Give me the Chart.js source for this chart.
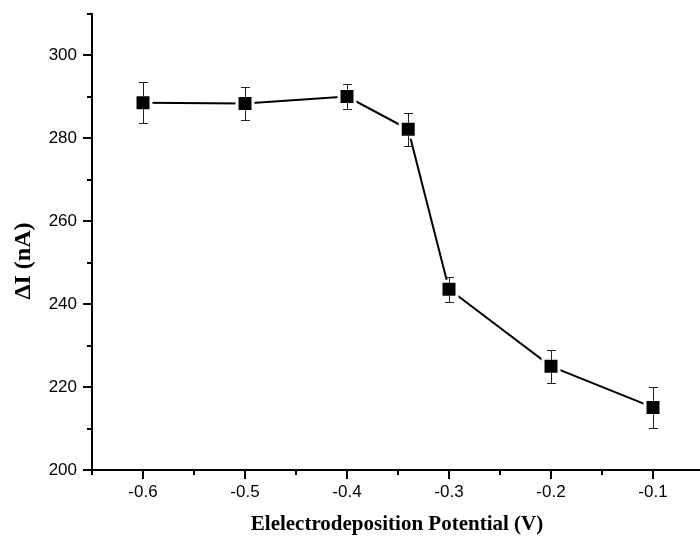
<!DOCTYPE html>
<html lang="en">
<head>
    <meta charset="UTF-8">
    <title>Electrodeposition Potential vs Delta I</title>
    <script src="https://cdn.jsdelivr.net/npm/chart.js"></script>
    <style>
        html, body {
            margin: 0;
            padding: 0;
            background: #ffffff;
            overflow: hidden;
        }
        #wrap {
            width: 700px;
            height: 537px;
            overflow: hidden;
        }
    </style>
</head>
<body>
    <div id="wrap">
        <canvas id="chart" width="704" height="537"></canvas>
    </div>

    <script>
        // Data
        const potentials = [-0.6, -0.5, -0.4, -0.34, -0.3, -0.2, -0.1];
        const deltaI = [288.6, 288.4, 290.1, 282.2, 243.6, 225.0, 215.1];
        const errors = [5.0, 4.0, 3.0, 4.0, 3.0, 4.0, 5.0];

        // Axis ticks
        const xTickValues = [-0.6, -0.5, -0.4, -0.3, -0.2, -0.1];
        const xTickLabels = ['-0.6', '-0.5', '-0.4', '-0.3', '-0.2', '-0.1'];
        const xMinorTicks = [-0.65, -0.55, -0.45, -0.35, -0.25, -0.15, -0.05];
        const yTickValues = [200, 220, 240, 260, 280, 300];
        const yTickLabels = ['200', '220', '240', '260', '280', '300'];
        const yMinorTicks = [210, 230, 250, 270, 290, 310];

        const xTitle = 'Elelectrodeposition Potential (V)';
        const yTitle = '\u0394I (nA)';

        const points = potentials.map((x, i) => ({ x: x, y: deltaI[i] }));

        // Error bars: drawn after the markers, only outside the square so they touch it
        const errorBars = {
            id: 'errorBars',
            afterDatasetsDraw(chart) {
                const ctx = chart.ctx;
                const xs = chart.scales.x;
                const ys = chart.scales.y;
                const half = 6.5;
                ctx.save();
                ctx.strokeStyle = '#222';
                ctx.lineWidth = 1;
                potentials.forEach((p, i) => {
                    const px = Math.round(xs.getPixelForValue(p)) + 0.5;
                    const mid = ys.getPixelForValue(deltaI[i]);
                    const top = Math.round(ys.getPixelForValue(deltaI[i] + errors[i])) + 0.5;
                    const bot = Math.round(ys.getPixelForValue(deltaI[i] - errors[i])) + 0.5;
                    ctx.beginPath();
                    ctx.moveTo(px, top);
                    ctx.lineTo(px, mid - half);
                    ctx.moveTo(px, mid + half);
                    ctx.lineTo(px, bot);
                    ctx.moveTo(px - 4.5, top);
                    ctx.lineTo(px + 4.5, top);
                    ctx.moveTo(px - 4.5, bot);
                    ctx.lineTo(px + 4.5, bot);
                    ctx.stroke();
                });
                ctx.restore();
            }
        };

        // Minor ticks and axis titles
        const axisExtras = {
            id: 'axisExtras',
            afterDraw(chart) {
                const ctx = chart.ctx;
                const xs = chart.scales.x;
                const ys = chart.scales.y;
                const area = chart.chartArea;
                ctx.save();
                ctx.strokeStyle = '#000';
                ctx.lineWidth = 2;
                ctx.beginPath();
                xMinorTicks.forEach(v => {
                    const px = Math.round(xs.getPixelForValue(v));
                    ctx.moveTo(px, area.bottom);
                    ctx.lineTo(px, area.bottom + 5);
                });
                yMinorTicks.forEach(v => {
                    const py = Math.round(ys.getPixelForValue(v));
                    ctx.moveTo(area.left, py);
                    ctx.lineTo(area.left - 5, py);
                });
                ctx.stroke();

                ctx.fillStyle = '#000';
                ctx.font = 'bold 21px "Liberation Serif", "Times New Roman", serif';
                ctx.textAlign = 'center';
                ctx.textBaseline = 'alphabetic';
                ctx.fillText(xTitle, 397, 530);

                ctx.translate(30, 261);
                ctx.rotate(-Math.PI / 2);
                ctx.font = 'bold 24px "Liberation Serif", "Times New Roman", serif';
                ctx.fillText(yTitle, 0, 0);
                ctx.restore();
            }
        };

        const ctx = document.getElementById('chart').getContext('2d');
        const chart = new Chart(ctx, {
            type: 'scatter',
            data: {
                datasets: [{
                    data: points,
                    showLine: true,
                    borderColor: '#000',
                    borderWidth: 2,
                    backgroundColor: '#000',
                    pointStyle: 'rect',
                    // white rim leaves the small gap between line and marker
                    pointRadius: 11.3,
                    pointBorderWidth: 3,
                    pointBorderColor: '#fff',
                    pointBackgroundColor: '#000',
                    tension: 0
                }]
            },
            options: {
                responsive: false,
                animation: false,
                events: [],
                layout: {
                    autoPadding: false,
                    padding: { top: 14, left: 0, right: 0, bottom: 0 }
                },
                plugins: {
                    legend: { display: false },
                    tooltip: { enabled: false }
                },
                scales: {
                    x: {
                        type: 'linear',
                        min: -0.65,
                        max: -0.05,
                        afterBuildTicks: (scale) => {
                            scale.ticks = xTickValues.map(v => ({ value: v }));
                        },
                        afterFit: (scale) => {
                            scale.height = 67;
                            scale.paddingLeft = 0;
                            scale.paddingRight = 0;
                        },
                        ticks: {
                            callback: (value) => {
                                const i = xTickValues.findIndex(v => Math.abs(v - value) < 1e-9);
                                return i >= 0 ? xTickLabels[i] : '';
                            },
                            color: '#000',
                            font: { family: '"Liberation Sans", Arial, sans-serif', size: 17 },
                            padding: 3,
                            maxRotation: 0,
                            autoSkip: false
                        },
                        grid: {
                            display: true,
                            drawOnChartArea: false,
                            drawTicks: true,
                            tickLength: 9,
                            lineWidth: 2,
                            color: '#000'
                        },
                        border: { display: true, color: '#000', width: 2 }
                    },
                    y: {
                        type: 'linear',
                        min: 200,
                        max: 310,
                        afterBuildTicks: (scale) => {
                            scale.ticks = yTickValues.map(v => ({ value: v }));
                        },
                        afterFit: (scale) => {
                            scale.width = 92;
                            scale.paddingTop = 0;
                            scale.paddingBottom = 0;
                        },
                        ticks: {
                            callback: (value) => {
                                const i = yTickValues.indexOf(value);
                                return i >= 0 ? yTickLabels[i] : '';
                            },
                            color: '#000',
                            font: { family: '"Liberation Sans", Arial, sans-serif', size: 17 },
                            padding: 6,
                            autoSkip: false
                        },
                        grid: {
                            display: true,
                            drawOnChartArea: false,
                            drawTicks: true,
                            tickLength: 9,
                            lineWidth: 2,
                            color: '#000'
                        },
                        border: { display: true, color: '#000', width: 2 }
                    }
                }
            },
            plugins: [errorBars, axisExtras]
        });
    </script>
</body>
</html>
